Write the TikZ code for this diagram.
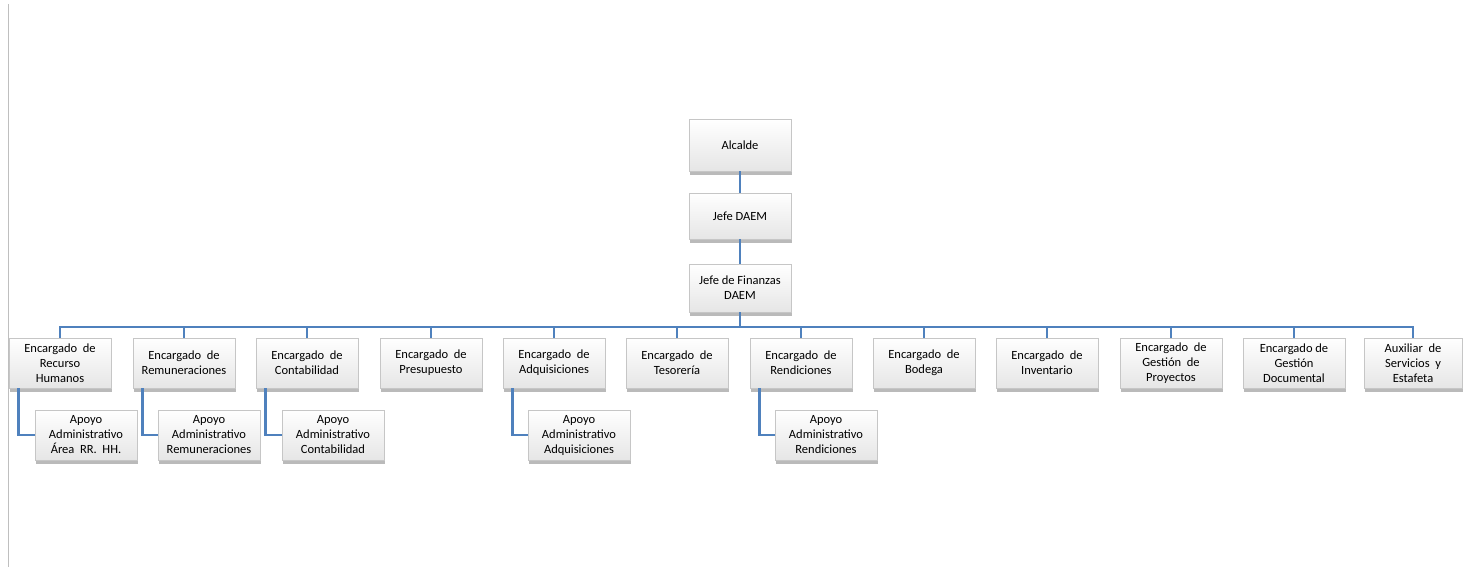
\documentclass[tikz,border=0pt]{standalone}
\usepackage{fontspec}
\setmainfont{Carlito}
\usetikzlibrary{shadows,calc}
\definecolor{connblue}{HTML}{4F81BD}
\tikzset{
  box/.style={draw=gray!45, line width=0.4pt, top color=white, bottom color=gray!20,
    minimum width=102pt, minimum height=50pt, align=center, inner sep=2pt,
    font=\fontsize{12.5}{15}\selectfont, text=black,
    drop shadow={shadow xshift=1pt, shadow yshift=-3.5pt, opacity=0.6, fill=gray!90}},
  conn/.style={draw=connblue, line width=2.8pt},
}
\begin{document}
\begin{tikzpicture}[x=1pt,y=-1pt]
\useasboundingbox (0,0) rectangle (1465,571);
\draw[gray!50, line width=1pt] (8,4) -- (8,567);
% top chain
\node[box, minimum height=52pt] (alc) at (740,145) {Alcalde};
\node[box, minimum height=46pt] (jefe) at (740,216) {Jefe DAEM};
\node[box, minimum height=48pt] (fin) at (740,288) {Jefe de Finanzas\\DAEM};
\coordinate (bus) at (0,327);
% second row
\node[box] (e1) at (60,363) {Encargado \ de\\Recurso\\Humanos};
\node[box] (e2) at (184,363) {Encargado \ de\\Remuneraciones};
\node[box] (e3) at (307,363) {Encargado \ de\\Contabilidad};
\node[box] (e4) at (431,363) {Encargado \ de\\Presupuesto};
\node[box] (e5) at (554,363) {Encargado \ de\\Adquisiciones};
\node[box] (e6) at (677,363) {Encargado \ de\\Tesorería};
\node[box] (e7) at (801,363) {Encargado \ de\\Rendiciones};
\node[box] (e8) at (924,363) {Encargado \ de\\Bodega};
\node[box] (e9) at (1047,363) {Encargado \ de\\Inventario};
\node[box] (e10) at (1171,363) {Encargado \ de\\Gestión \ de\\Proyectos};
\node[box] (e11) at (1294,363) {Encargado de\\Gestión\\Documental};
\node[box, minimum width=98pt] (e12) at (1413,363) {Auxiliar \ de\\Servicios \ y\\Estafeta};
% third row
\node[box] (a1) at (86,435) {Apoyo\\Administrativo\\Área \ RR. \ HH.};
\node[box] (a2) at (209,435) {Apoyo\\Administrativo\\Remuneraciones};
\node[box] (a3) at (333,435) {Apoyo\\Administrativo\\Contabilidad};
\node[box] (a5) at (579,435) {Apoyo\\Administrativo\\Adquisiciones};
\node[box] (a7) at (826,435) {Apoyo\\Administrativo\\Rendiciones};
% connectors
\draw[conn] (alc.south) -- (jefe.north);
\draw[conn] (jefe.south) -- (fin.north);
\foreach \i in {1,...,12}{
  \draw[conn] (fin.south) -- (fin.south |- bus) -| (e\i.north);
}
\foreach \i in {1,2,3,5,7}{
  \draw[conn] ([xshift=10pt]e\i.south west) |- (a\i.west);
}
\end{tikzpicture}
\end{document}
